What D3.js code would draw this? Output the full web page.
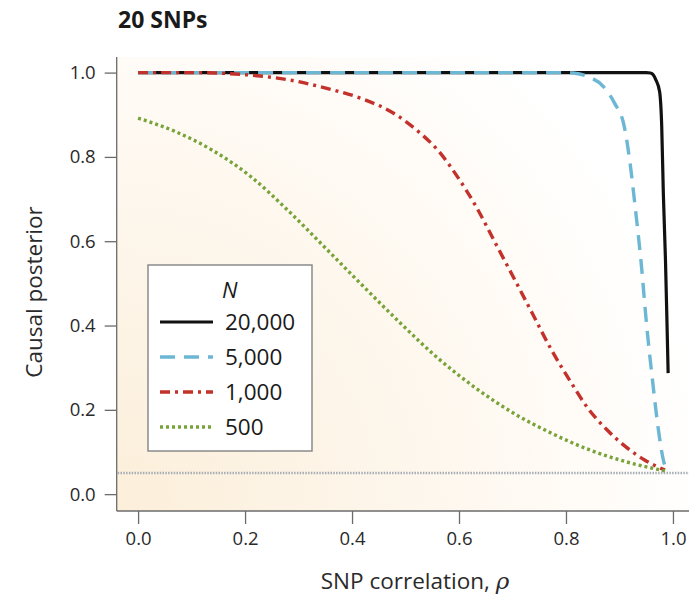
<!DOCTYPE html>
<html>
<head>
<meta charset="utf-8">
<script src="https://cdn.jsdelivr.net/npm/d3@7/dist/d3.min.js"></script>
<style>
  html, body { margin: 0; padding: 0; background: #fff; }
  svg { display: block; }
  text { font-family: "Open Sans", "Noto Sans", sans-serif; }
</style>
</head>
<body>
<svg id="chart" width="689" height="600"></svg>
<script>
// ---- data ----
const title = "20 SNPs";
const xLabel = "SNP correlation, ";
const yLabel = "Causal posterior";
const xTicks = [0.0, 0.2, 0.4, 0.6, 0.8, 1.0];
const yTicks = [0.0, 0.2, 0.4, 0.6, 0.8, 1.0];
const legendTitle = "N";
const seriesNames = ["20,000", "5,000", "1,000", "500"];

const rho20000  = [0, 0.2, 0.4, 0.6, 0.8, 0.9, 0.95, 0.958, 0.963, 0.968, 0.975, 0.979, 0.982, 0.986, 0.989, 0.991];
const post20000 = [1, 1, 1, 1, 1, 1, 1, 0.999, 0.995, 0.983, 0.955, 0.872, 0.714, 0.556, 0.398, 0.287];

const rho5000  = [0, 0.2, 0.4, 0.6, 0.8, 0.814, 0.842, 0.87, 0.891, 0.909, 0.919, 0.93, 0.94, 0.951, 0.961, 0.972, 0.982, 0.986];
const post5000 = [1, 1, 1, 1, 1, 0.999, 0.99, 0.967, 0.927, 0.872, 0.793, 0.674, 0.556, 0.398, 0.279, 0.16, 0.081, 0.062];

const rho1000  = [0, 0.1, 0.21, 0.281, 0.351, 0.421, 0.477, 0.526, 0.561, 0.596, 0.632, 0.667, 0.702, 0.737, 0.772, 0.807, 0.842, 0.877, 0.912, 0.947, 0.985];
const post1000 = [1, 1, 0.994, 0.983, 0.963, 0.937, 0.904, 0.858, 0.815, 0.755, 0.682, 0.598, 0.514, 0.429, 0.344, 0.27, 0.202, 0.152, 0.112, 0.081, 0.057];

const rho500  = [0, 0.07, 0.14, 0.211, 0.281, 0.351, 0.421, 0.491, 0.561, 0.632, 0.702, 0.772, 0.842, 0.912, 0.985];
const post500 = [0.892, 0.86, 0.815, 0.753, 0.672, 0.583, 0.493, 0.405, 0.322, 0.251, 0.192, 0.145, 0.106, 0.077, 0.055];

const nullLevel = 0.05;

// ---- styles ----
const styles = [
  { color: "#111111", dash: null,        width: 3.2 },
  { color: "#6cb7d4", dash: "15,9",      width: 3.4 },
  { color: "#c2312b", dash: "10,5,3,5",  width: 3.4 },
  { color: "#78a33a", dash: "3,3",       width: 3.4 }
];
const seriesData = [
  rho20000.map((r, i) => [r, post20000[i]]),
  rho5000.map((r, i) => [r, post5000[i]]),
  rho1000.map((r, i) => [r, post1000[i]]),
  rho500.map((r, i) => [r, post500[i]])
];

const svg = d3.select("#chart");
const pLeft = 116.7, pRight = 689, pTop = 57, pBottom = 511;

const x = d3.scaleLinear().domain([-0.04, 1.03]).range([pLeft, pRight]);
const y = d3.scaleLinear().domain([-0.04, 1.037]).range([pBottom, pTop]);

// background gradient
const defs = svg.append("defs");
const grad = defs.append("radialGradient")
  .attr("id", "bg").attr("gradientUnits", "userSpaceOnUse")
  .attr("cx", pLeft).attr("cy", pBottom).attr("r", 700);
grad.append("stop").attr("offset", 0).attr("stop-color", "#fcefda");
grad.append("stop").attr("offset", 0.35).attr("stop-color", "#fdf5e9");
grad.append("stop").attr("offset", 0.65).attr("stop-color", "#fffbf6");
grad.append("stop").attr("offset", 0.85).attr("stop-color", "#ffffff");
svg.append("rect").attr("x", pLeft).attr("y", pTop)
  .attr("width", pRight - pLeft).attr("height", pBottom - pTop)
  .attr("fill", "url(#bg)");

// null reference line
svg.append("line")
  .attr("x1", pLeft + 1).attr("x2", pRight)
  .attr("y1", y(nullLevel)).attr("y2", y(nullLevel))
  .attr("stroke", "#a6adb5").attr("stroke-width", 2.5)
  .attr("stroke-dasharray", "1.5,1.3");

// axes
const xAxis = d3.axisBottom(x).tickValues(xTicks).tickFormat(d3.format(".1f")).tickSize(13).tickPadding(8);
const yAxis = d3.axisLeft(y).tickValues(yTicks).tickFormat(d3.format(".1f")).tickSize(12).tickPadding(9);

const gx = svg.append("g").attr("transform", `translate(0,${pBottom})`).call(xAxis);
const gy = svg.append("g").attr("transform", `translate(${pLeft},0)`).call(yAxis);
[gx, gy].forEach(g => {
  g.select(".domain").attr("stroke", "#6b6b6b").attr("stroke-width", 1.3);
  g.selectAll(".tick line").attr("stroke", "#6b6b6b").attr("stroke-width", 1.3);
  g.selectAll(".tick text").attr("fill", "#2a2a2a").style("font-size", "18.5px")
    .style("font-family", "'Open Sans', 'Noto Sans', sans-serif");
});
gx.select(".domain").attr("d", `M${pLeft},0H${pRight}`);
gy.select(".domain").attr("d", `M0,${pTop}V${pBottom}`);

// curves (black, blue, red, green)
const line = d3.line().x(d => x(d[0])).y(d => y(d[1])).curve(d3.curveMonotoneX);
seriesData.forEach((data, i) => {
  const s = styles[i];
  svg.append("path").datum(data)
    .attr("d", line)
    .attr("fill", "none")
    .attr("stroke", s.color)
    .attr("stroke-width", s.width)
    .attr("stroke-dasharray", s.dash)
    .attr("stroke-linejoin", "round");
});

// title
svg.append("text").attr("x", 118).attr("y", 28)
  .attr("font-weight", "bold").attr("font-size", 23).attr("fill", "#1a1a1a")
  .text(title);

// axis labels
svg.append("text")
  .attr("transform", `translate(42,${292}) rotate(-90)`)
  .attr("text-anchor", "middle").attr("font-size", 22.5).attr("fill", "#2a2a2a")
  .text(yLabel);

const xl = svg.append("text")
  .attr("x", 415).attr("y", 589)
  .attr("text-anchor", "middle").attr("font-size", 22.5).attr("fill", "#2a2a2a");
xl.append("tspan").text(xLabel);
xl.append("tspan").attr("font-family", "'DejaVu Serif', serif").attr("font-style", "italic").attr("font-size", 23).text("ρ");

// legend
const lg = svg.append("g");
lg.append("rect").attr("x", 148).attr("y", 265).attr("width", 164).attr("height", 186)
  .attr("fill", "#ffffff").attr("stroke", "#8a8a8a").attr("stroke-width", 1.5);
lg.append("text").attr("x", 222).attr("y", 298).attr("font-size", 22)
  .attr("font-style", "italic").attr("fill", "#1a1a1a").text(legendTitle);
seriesNames.forEach((name, i) => {
  const yy = 322 + i * 35;
  const s = styles[i];
  lg.append("line").attr("x1", 160).attr("x2", 213).attr("y1", yy).attr("y2", yy)
    .attr("stroke", s.color).attr("stroke-width", s.width)
    .attr("stroke-dasharray", s.dash);
  lg.append("text").attr("x", 225).attr("y", yy + 8).attr("font-size", 22.5)
    .attr("fill", "#1a1a1a").text(name);
});
</script>
</body>
</html>
